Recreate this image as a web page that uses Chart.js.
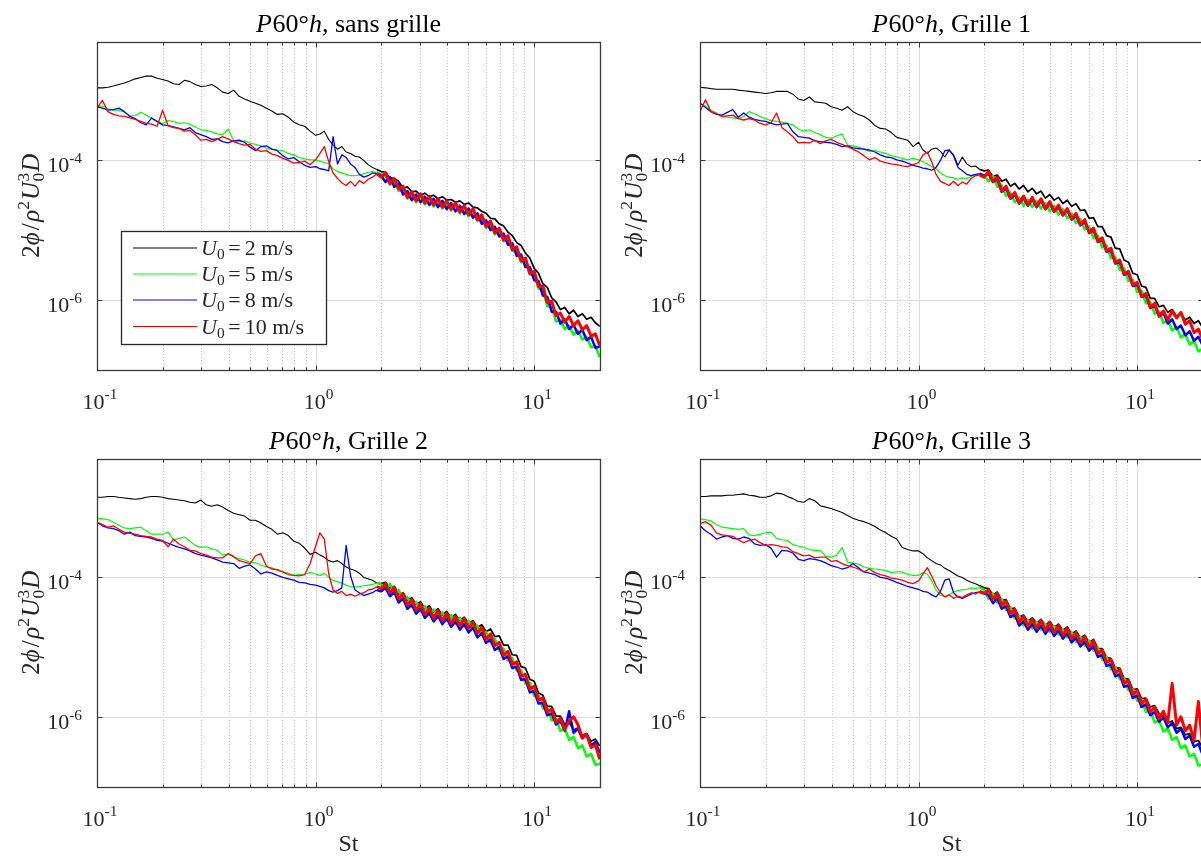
<!DOCTYPE html>
<html><head><meta charset="utf-8">
<script src="https://cdn.jsdelivr.net/npm/chart.js@4.4.1/dist/chart.umd.min.js"></script>
<style>
html,body{margin:0;padding:0;width:1201px;height:858px;overflow:hidden;background:#fff}
canvas{position:absolute}
</style></head><body>
<canvas id="c0" width="610" height="420" style="left:0px;top:0px"></canvas>
<canvas id="c1" width="610" height="420" style="left:603px;top:0px"></canvas>
<canvas id="c2" width="610" height="441" style="left:0px;top:417px"></canvas>
<canvas id="c3" width="610" height="441" style="left:603px;top:417px"></canvas>
<script>
// ---------- data ----------
const st = [0.1,0.1059,0.1122,0.1189,0.1259,0.1334,0.1413,0.1496,0.1585,0.1679,
0.1778,0.1884,0.1995,0.2113,0.2239,0.2371,0.2512,0.2661,0.2818,0.2985,
0.3162,0.335,0.3548,0.3758,0.3981,0.4217,0.4467,0.4732,0.5012,0.5309,
0.5623,0.5957,0.631,0.6683,0.7079,0.7499,0.7943,0.8414,0.8913,0.9441,1.0,
1.047,1.096,1.148,1.202,1.259,1.318,1.380,1.445,1.514,1.585,1.660,1.738,1.820,1.905,1.995,
2.089,2.188,2.291,2.399,2.512,2.630,2.754,2.884,3.020,3.162,
3.311,3.467,3.631,3.802,3.981,4.169,4.365,4.571,4.786,5.012,
5.248,5.495,5.754,6.026,6.310,6.607,6.918,7.244,7.586,7.943,
8.318,8.710,9.120,9.550,10.0,10.47,10.96,11.48,12.02,12.59,
13.18,13.80,14.45,15.14,15.85,16.60,17.38,18.20,19.05,19.95];

const panelNames = ['sans grille','Grille 1','Grille 2','Grille 3'];
const speeds = [2,5,8,10];
const xMajorTicks = [0.1,1,10];
const xTickExponents = ['-1','0','1'];
const xMinorTicks = [0.2,0.3,0.4,0.5,0.6,0.7,0.8,0.9,2,3,4,5,6,7,8,9];
const yMajorTicks = [1e-6,1e-4];
const yTickExponents = ['-6','-4'];
const xAxisLabel = 'St';

// P60°h, sans grille
const sg_U2 = [1.10e-3,1.10e-3,1.12e-3,1.17e-3,1.23e-3,1.29e-3,1.38e-3,1.48e-3,1.55e-3,1.62e-3,
1.62e-3,1.51e-3,1.45e-3,1.38e-3,1.26e-3,1.23e-3,1.41e-3,1.35e-3,1.23e-3,1.15e-3,
1.17e-3,1.23e-3,1.10e-3,9.55e-4,9.12e-4,1.02e-3,8.32e-4,7.59e-4,7.08e-4,6.61e-4,
6.17e-4,5.62e-4,5.13e-4,4.57e-4,4.68e-4,4.17e-4,3.55e-4,3.24e-4,3.09e-4,2.63e-4,2.29e-4,
2.40e-4,2.63e-4,2.00e-4,1.66e-4,1.45e-4,1.58e-4,1.32e-4,1.26e-4,1.15e-4,1.12e-4,1.0e-4,8.71e-5,7.94e-5,7.41e-5,6.92e-5,
6.76e-5,5.62e-5,5.50e-5,5.01e-5,3.98e-5,4.17e-5,3.55e-5,3.63e-5,3.16e-5,3.39e-5,
3.02e-5,3.16e-5,2.82e-5,3.02e-5,2.69e-5,2.75e-5,2.51e-5,2.63e-5,2.34e-5,2.45e-5,
2.14e-5,2.09e-5,1.86e-5,1.74e-5,1.48e-5,1.45e-5,1.23e-5,1.15e-5,9.33e-6,8.32e-6,
6.61e-6,6.03e-6,4.68e-6,3.98e-6,2.82e-6,2.40e-6,1.70e-6,1.51e-6,1.07e-6,9.33e-7,
7.24e-7,7.76e-7,6.31e-7,7.08e-7,5.75e-7,6.31e-7,5.25e-7,5.62e-7,4.68e-7,4.17e-7];
const sg_U5 = [5.89e-4,6.03e-4,5.50e-4,5.25e-4,5.25e-4,4.90e-4,4.37e-4,4.37e-4,4.90e-4,4.47e-4,
3.98e-4,3.63e-4,3.39e-4,3.72e-4,3.63e-4,3.39e-4,3.47e-4,3.31e-4,3.02e-4,2.75e-4,
2.69e-4,2.57e-4,2.40e-4,2.34e-4,2.82e-4,1.91e-4,1.86e-4,1.91e-4,1.78e-4,1.70e-4,
1.62e-4,1.48e-4,1.45e-4,1.41e-4,1.38e-4,1.26e-4,1.20e-4,1.10e-4,1.05e-4,1.02e-4,1.02e-4,
9.77e-5,9.33e-5,8.91e-5,7.59e-5,6.92e-5,6.61e-5,6.31e-5,6.03e-5,6.03e-5,6.17e-5,6.46e-5,6.76e-5,6.92e-5,6.76e-5,6.31e-5,
5.89e-5,4.47e-5,5.01e-5,3.63e-5,3.89e-5,2.82e-5,3.24e-5,2.51e-5,3.02e-5,2.34e-5,
2.75e-5,2.19e-5,2.57e-5,2.04e-5,2.40e-5,1.91e-5,2.24e-5,1.74e-5,2.04e-5,1.58e-5,
1.82e-5,1.35e-5,1.48e-5,1.07e-5,1.20e-5,8.71e-6,9.77e-6,6.92e-6,7.41e-6,5.01e-6,
5.13e-6,3.47e-6,3.55e-6,2.29e-6,2.29e-6,1.45e-6,1.35e-6,8.13e-7,7.76e-7,4.90e-7,
5.13e-7,3.80e-7,4.27e-7,3.16e-7,3.63e-7,2.69e-7,2.95e-7,2.09e-7,2.19e-7,1.51e-7];
const sg_U8 = [5.89e-4,5.62e-4,5.25e-4,5.37e-4,5.62e-4,5.01e-4,4.27e-4,3.98e-4,3.47e-4,3.24e-4,
4.07e-4,3.63e-4,3.24e-4,3.16e-4,3.02e-4,2.88e-4,2.75e-4,2.95e-4,2.51e-4,2.34e-4,
2.19e-4,2.00e-4,2.04e-4,1.86e-4,1.78e-4,1.91e-4,1.95e-4,1.82e-4,1.55e-4,1.38e-4,
1.58e-4,1.62e-4,1.45e-4,1.38e-4,1.17e-4,1.05e-4,1.10e-4,9.55e-5,8.51e-5,7.94e-5,8.13e-5,
7.59e-5,7.41e-5,7.08e-5,2.19e-4,8.91e-5,1.20e-4,1.10e-4,8.91e-5,7.94e-5,6.31e-5,5.75e-5,6.03e-5,6.61e-5,6.46e-5,6.03e-5,
4.90e-5,5.75e-5,4.17e-5,4.68e-5,3.24e-5,3.63e-5,2.69e-5,3.24e-5,2.51e-5,3.02e-5,
2.29e-5,2.82e-5,2.14e-5,2.63e-5,2.00e-5,2.45e-5,1.86e-5,2.24e-5,1.70e-5,2.04e-5,
1.51e-5,1.74e-5,1.23e-5,1.38e-5,1.0e-5,1.12e-5,8.13e-6,8.91e-6,6.17e-6,6.46e-6,
4.27e-6,4.47e-6,2.95e-6,2.95e-6,1.91e-6,1.86e-6,1.15e-6,1.10e-6,6.76e-7,6.76e-7,
4.57e-7,5.25e-7,3.80e-7,4.37e-7,3.24e-7,3.72e-7,2.63e-7,2.95e-7,2.04e-7,2.14e-7];
const sg_U10 = [5.62e-4,7.24e-4,5.01e-4,4.57e-4,4.37e-4,4.27e-4,4.07e-4,3.89e-4,3.63e-4,3.39e-4,
3.31e-4,3.09e-4,5.25e-4,3.16e-4,2.95e-4,2.88e-4,2.63e-4,2.69e-4,2.34e-4,1.95e-4,
2.00e-4,1.86e-4,2.00e-4,2.19e-4,2.04e-4,1.86e-4,1.74e-4,1.66e-4,1.70e-4,1.45e-4,
1.35e-4,1.38e-4,1.23e-4,1.17e-4,1.07e-4,1.0e-4,9.12e-5,9.33e-5,9.77e-5,8.71e-5,1.02e-4,
1.26e-4,1.58e-4,9.55e-5,6.61e-5,5.50e-5,4.79e-5,4.37e-5,5.01e-5,4.27e-5,5.13e-5,4.68e-5,5.37e-5,5.75e-5,6.46e-5,5.75e-5,
6.61e-5,4.68e-5,5.50e-5,3.89e-5,4.27e-5,2.95e-5,3.55e-5,2.63e-5,3.31e-5,2.45e-5,
3.02e-5,2.29e-5,2.82e-5,2.14e-5,2.63e-5,2.00e-5,2.45e-5,1.82e-5,2.24e-5,1.66e-5,
2.04e-5,1.41e-5,1.66e-5,1.12e-5,1.35e-5,9.12e-6,1.07e-5,7.24e-6,8.32e-6,5.25e-6,
5.75e-6,3.63e-6,3.98e-6,2.40e-6,2.57e-6,1.55e-6,1.58e-6,9.12e-7,9.55e-7,5.89e-7,
6.46e-7,4.79e-7,5.75e-7,4.27e-7,5.01e-7,3.72e-7,4.27e-7,3.02e-7,3.24e-7,2.19e-7];

// P60°h, Grille 1
const g1_U2 = [1.12e-3,1.10e-3,1.07e-3,1.05e-3,1.05e-3,1.05e-3,1.05e-3,1.02e-3,1.0e-3,9.77e-4,
9.55e-4,9.33e-4,9.12e-4,9.33e-4,9.77e-4,9.77e-4,9.77e-4,8.91e-4,7.59e-4,7.24e-4,
8.13e-4,6.92e-4,6.76e-4,6.61e-4,5.89e-4,5.62e-4,5.25e-4,5.89e-4,5.01e-4,4.57e-4,
4.27e-4,3.80e-4,3.16e-4,2.88e-4,2.82e-4,2.51e-4,2.14e-4,2.04e-4,1.95e-4,1.58e-4,1.82e-4,
1.41e-4,1.26e-4,1.45e-4,1.51e-4,1.35e-4,1.12e-4,1.41e-4,1.20e-4,8.51e-5,1.12e-4,8.91e-5,8.13e-5,8.32e-5,7.41e-5,7.08e-5,
7.24e-5,5.89e-5,6.17e-5,5.01e-5,5.37e-5,4.27e-5,4.68e-5,3.89e-5,4.37e-5,3.55e-5,
3.98e-5,3.31e-5,3.63e-5,2.88e-5,3.24e-5,2.69e-5,2.95e-5,2.40e-5,2.69e-5,2.19e-5,
2.40e-5,1.91e-5,1.95e-5,1.48e-5,1.51e-5,1.12e-5,1.12e-5,8.32e-6,7.94e-6,5.50e-6,
5.37e-6,3.72e-6,3.47e-6,2.40e-6,2.29e-6,1.58e-6,1.51e-6,1.05e-6,1.05e-6,7.94e-7,
8.32e-7,6.61e-7,7.24e-7,5.75e-7,6.31e-7,5.13e-7,5.62e-7,4.57e-7,5.01e-7,3.98e-7];
const g1_U5 = [6.61e-4,6.03e-4,5.25e-4,4.79e-4,4.27e-4,4.17e-4,4.07e-4,3.98e-4,4.27e-4,5.01e-4,
4.68e-4,4.27e-4,3.98e-4,3.72e-4,3.63e-4,3.55e-4,3.39e-4,3.24e-4,2.82e-4,2.63e-4,
2.75e-4,2.51e-4,2.34e-4,2.14e-4,2.09e-4,2.24e-4,2.40e-4,1.66e-4,1.62e-4,1.55e-4,
1.45e-4,1.35e-4,1.38e-4,1.32e-4,1.26e-4,1.17e-4,1.12e-4,1.07e-4,1.02e-4,1.07e-4,1.02e-4,
9.55e-5,8.91e-5,8.13e-5,7.59e-5,6.61e-5,6.03e-5,5.75e-5,5.62e-5,5.37e-5,5.62e-5,5.50e-5,5.89e-5,6.17e-5,6.31e-5,6.03e-5,
5.01e-5,6.03e-5,4.17e-5,4.37e-5,3.09e-5,3.47e-5,2.51e-5,2.95e-5,2.24e-5,2.75e-5,
2.14e-5,2.63e-5,2.04e-5,2.45e-5,1.86e-5,2.24e-5,1.66e-5,2.00e-5,1.48e-5,1.74e-5,
1.26e-5,1.45e-5,1.02e-5,1.12e-5,7.76e-6,8.32e-6,5.62e-6,6.03e-6,3.98e-6,4.07e-6,
2.69e-6,2.82e-6,1.86e-6,1.95e-6,1.29e-6,1.35e-6,8.91e-7,9.33e-7,6.31e-7,6.76e-7,
4.68e-7,5.13e-7,3.63e-7,4.07e-7,2.88e-7,3.24e-7,2.29e-7,2.57e-7,1.82e-7,2.00e-7];
const g1_U8 = [6.61e-4,5.75e-4,5.01e-4,4.57e-4,4.47e-4,4.90e-4,5.37e-4,4.17e-4,4.79e-4,4.17e-4,
3.89e-4,3.72e-4,3.63e-4,3.39e-4,3.24e-4,3.31e-4,3.39e-4,2.57e-4,2.19e-4,2.14e-4,
2.09e-4,1.91e-4,1.86e-4,1.82e-4,1.78e-4,1.70e-4,1.58e-4,1.62e-4,1.51e-4,1.48e-4,
1.45e-4,1.41e-4,1.32e-4,1.20e-4,1.12e-4,1.10e-4,1.02e-4,9.77e-5,9.12e-5,8.51e-5,8.13e-5,
7.76e-5,7.59e-5,7.24e-5,7.94e-5,1.0e-4,1.38e-4,1.41e-4,1.17e-4,7.94e-5,7.08e-5,6.31e-5,6.03e-5,6.31e-5,6.46e-5,6.03e-5,
6.46e-5,4.90e-5,5.37e-5,3.55e-5,3.98e-5,2.82e-5,3.24e-5,2.40e-5,2.88e-5,2.24e-5,
2.75e-5,2.14e-5,2.63e-5,2.00e-5,2.40e-5,1.82e-5,2.14e-5,1.62e-5,1.91e-5,1.41e-5,
1.62e-5,1.17e-5,1.32e-5,9.12e-6,1.0e-5,6.76e-6,7.24e-6,4.90e-6,5.13e-6,3.31e-6,
3.47e-6,2.29e-6,2.40e-6,1.58e-6,1.66e-6,1.10e-6,1.15e-6,7.59e-7,8.32e-7,5.75e-7,
6.46e-7,4.57e-7,5.25e-7,3.80e-7,4.27e-7,3.09e-7,3.55e-7,2.57e-7,2.95e-7,2.19e-7];
const g1_U10 = [5.01e-4,7.41e-4,5.01e-4,4.68e-4,4.27e-4,4.37e-4,4.47e-4,3.98e-4,3.80e-4,3.98e-4,
3.80e-4,3.39e-4,3.24e-4,3.47e-4,4.79e-4,2.95e-4,2.57e-4,2.19e-4,1.78e-4,1.82e-4,
1.78e-4,1.95e-4,1.74e-4,1.91e-4,2.00e-4,1.82e-4,1.70e-4,1.58e-4,1.45e-4,1.32e-4,
1.17e-4,1.02e-4,1.10e-4,9.77e-5,9.33e-5,8.91e-5,8.71e-5,8.32e-5,8.13e-5,8.71e-5,9.33e-5,
1.20e-4,1.32e-4,9.55e-5,6.31e-5,5.01e-5,4.68e-5,4.37e-5,5.01e-5,4.37e-5,4.90e-5,4.57e-5,5.50e-5,6.03e-5,6.17e-5,5.75e-5,
6.92e-5,5.01e-5,5.75e-5,3.63e-5,4.27e-5,2.88e-5,3.47e-5,2.45e-5,3.09e-5,2.29e-5,
2.95e-5,2.19e-5,2.82e-5,2.04e-5,2.57e-5,1.86e-5,2.29e-5,1.66e-5,2.04e-5,1.45e-5,
1.74e-5,1.20e-5,1.41e-5,9.33e-6,1.07e-5,6.92e-6,7.76e-6,5.01e-6,5.50e-6,3.39e-6,
3.72e-6,2.34e-6,2.57e-6,1.62e-6,1.78e-6,1.12e-6,1.23e-6,7.76e-7,8.91e-7,5.89e-7,
6.92e-7,5.13e-7,6.92e-7,5.50e-7,6.61e-7,4.47e-7,5.01e-7,3.39e-7,3.80e-7,2.69e-7];

// P60°h, Grille 2
const g2_U2 = [1.41e-3,1.41e-3,1.45e-3,1.45e-3,1.41e-3,1.38e-3,1.35e-3,1.32e-3,1.35e-3,1.41e-3,
1.45e-3,1.45e-3,1.41e-3,1.35e-3,1.32e-3,1.29e-3,1.26e-3,1.20e-3,1.17e-3,1.29e-3,
1.10e-3,1.05e-3,1.10e-3,1.02e-3,9.12e-4,8.32e-4,7.94e-4,7.59e-4,6.61e-4,6.61e-4,
6.03e-4,5.37e-4,4.90e-4,4.17e-4,4.37e-4,3.98e-4,3.31e-4,3.09e-4,2.63e-4,2.14e-4,2.29e-4,
2.09e-4,1.95e-4,1.74e-4,1.66e-4,1.74e-4,1.58e-4,1.41e-4,1.32e-4,1.26e-4,1.15e-4,1.0e-4,9.55e-5,9.12e-5,8.32e-5,8.13e-5,
8.51e-5,7.08e-5,7.41e-5,5.62e-5,6.03e-5,4.68e-5,5.13e-5,4.07e-5,4.47e-5,3.55e-5,
3.89e-5,3.16e-5,3.55e-5,2.88e-5,3.24e-5,2.63e-5,2.95e-5,2.40e-5,2.69e-5,2.19e-5,
2.40e-5,1.91e-5,2.09e-5,1.66e-5,1.82e-5,1.41e-5,1.45e-5,1.07e-5,1.07e-5,7.76e-6,
7.59e-6,5.25e-6,5.01e-6,3.47e-6,3.24e-6,2.19e-6,2.04e-6,1.41e-6,1.41e-6,1.02e-6,
1.02e-6,7.76e-7,8.32e-7,6.46e-7,6.92e-7,5.37e-7,5.75e-7,4.47e-7,4.79e-7,3.80e-7];
const g2_U5 = [7.08e-4,6.92e-4,6.76e-4,6.17e-4,5.62e-4,5.13e-4,5.01e-4,5.13e-4,5.25e-4,4.68e-4,
4.17e-4,4.17e-4,4.17e-4,4.47e-4,3.47e-4,3.63e-4,3.80e-4,3.31e-4,2.88e-4,2.69e-4,
2.75e-4,2.57e-4,2.45e-4,2.09e-4,2.19e-4,1.95e-4,1.86e-4,1.78e-4,1.66e-4,1.62e-4,
1.51e-4,1.41e-4,1.38e-4,1.26e-4,1.20e-4,1.15e-4,1.07e-4,1.10e-4,1.12e-4,1.17e-4,1.12e-4,
1.07e-4,1.15e-4,1.0e-4,9.12e-5,8.71e-5,8.32e-5,7.76e-5,7.41e-5,7.24e-5,7.41e-5,7.59e-5,7.76e-5,7.94e-5,8.32e-5,7.94e-5,
6.76e-5,8.13e-5,5.89e-5,6.61e-5,4.68e-5,5.25e-5,3.80e-5,4.47e-5,3.31e-5,3.89e-5,
2.88e-5,3.47e-5,2.63e-5,3.16e-5,2.40e-5,2.88e-5,2.19e-5,2.63e-5,2.00e-5,2.40e-5,
1.78e-5,2.04e-5,1.48e-5,1.66e-5,1.17e-5,1.32e-5,8.91e-6,9.55e-6,6.46e-6,6.92e-6,
4.57e-6,4.68e-6,3.02e-6,3.09e-6,2.00e-6,2.04e-6,1.32e-6,1.35e-6,8.91e-7,9.33e-7,
6.31e-7,6.76e-7,4.68e-7,5.13e-7,3.55e-7,3.89e-7,2.69e-7,2.95e-7,2.04e-7,2.14e-7];
const g2_U8 = [6.17e-4,5.50e-4,5.13e-4,5.01e-4,4.68e-4,4.17e-4,4.47e-4,3.98e-4,3.89e-4,3.80e-4,
3.63e-4,3.39e-4,3.31e-4,3.09e-4,2.88e-4,2.69e-4,2.57e-4,2.40e-4,2.19e-4,2.09e-4,
2.00e-4,1.91e-4,1.78e-4,1.66e-4,1.62e-4,1.58e-4,1.35e-4,1.45e-4,1.51e-4,1.32e-4,
1.12e-4,1.20e-4,1.15e-4,1.07e-4,1.0e-4,9.55e-5,9.12e-5,8.51e-5,8.32e-5,7.94e-5,7.76e-5,
7.41e-5,7.08e-5,6.46e-5,6.17e-5,6.46e-5,7.08e-5,2.88e-4,1.05e-4,6.61e-5,6.03e-5,5.50e-5,5.75e-5,6.03e-5,6.61e-5,6.31e-5,
7.08e-5,5.37e-5,6.17e-5,4.37e-5,5.01e-5,3.55e-5,4.07e-5,3.02e-5,3.55e-5,2.63e-5,
3.09e-5,2.34e-5,2.82e-5,2.14e-5,2.57e-5,1.95e-5,2.34e-5,1.78e-5,2.14e-5,1.62e-5,
1.91e-5,1.38e-5,1.58e-5,1.15e-5,1.29e-5,9.12e-6,1.0e-5,6.76e-6,7.41e-6,5.01e-6,
5.25e-6,3.39e-6,3.47e-6,2.24e-6,2.34e-6,1.55e-6,1.58e-6,1.05e-6,1.12e-6,7.76e-7,
8.71e-7,6.31e-7,1.20e-6,5.89e-7,6.76e-7,4.90e-7,5.50e-7,3.89e-7,4.37e-7,3.02e-7];
const g2_U10 = [6.17e-4,5.75e-4,5.25e-4,5.50e-4,4.90e-4,4.47e-4,4.27e-4,4.17e-4,3.98e-4,3.89e-4,
3.80e-4,3.55e-4,3.39e-4,2.75e-4,3.55e-4,3.02e-4,2.75e-4,2.45e-4,2.40e-4,2.19e-4,
2.09e-4,1.95e-4,1.91e-4,1.91e-4,2.19e-4,2.00e-4,1.74e-4,1.66e-4,1.58e-4,2.04e-4,
2.19e-4,1.45e-4,1.32e-4,1.29e-4,1.20e-4,1.10e-4,1.07e-4,1.05e-4,1.10e-4,1.58e-4,2.82e-4,
4.37e-4,3.55e-4,1.12e-4,6.61e-5,5.89e-5,6.31e-5,5.50e-5,5.75e-5,5.37e-5,5.75e-5,6.03e-5,6.61e-5,6.76e-5,7.41e-5,6.92e-5,
8.13e-5,6.03e-5,7.24e-5,4.90e-5,5.89e-5,3.98e-5,4.79e-5,3.39e-5,4.17e-5,2.95e-5,
3.63e-5,2.63e-5,3.31e-5,2.40e-5,3.02e-5,2.19e-5,2.75e-5,2.04e-5,2.57e-5,1.86e-5,
2.29e-5,1.58e-5,1.91e-5,1.29e-5,1.55e-5,1.05e-5,1.17e-5,7.59e-6,8.71e-6,5.62e-6,
6.17e-6,3.80e-6,4.07e-6,2.51e-6,2.75e-6,1.74e-6,1.86e-6,1.17e-6,1.29e-6,8.32e-7,
9.55e-7,6.61e-7,8.71e-7,1.0e-6,7.76e-7,5.01e-7,5.62e-7,3.63e-7,3.98e-7,2.45e-7];

// P60°h, Grille 3
const g3_U2 = [1.45e-3,1.45e-3,1.48e-3,1.48e-3,1.48e-3,1.51e-3,1.51e-3,1.55e-3,1.58e-3,1.51e-3,
1.48e-3,1.41e-3,1.41e-3,1.48e-3,1.62e-3,1.58e-3,1.45e-3,1.35e-3,1.23e-3,1.20e-3,
1.35e-3,1.26e-3,1.07e-3,1.02e-3,9.77e-4,9.12e-4,8.51e-4,7.76e-4,7.08e-4,6.61e-4,
6.31e-4,5.89e-4,5.37e-4,4.79e-4,4.37e-4,3.89e-4,3.55e-4,2.69e-4,2.51e-4,2.40e-4,2.40e-4,
2.19e-4,1.91e-4,1.74e-4,1.58e-4,1.51e-4,1.35e-4,1.26e-4,1.15e-4,1.05e-4,1.0e-4,9.12e-5,8.51e-5,8.13e-5,7.59e-5,7.08e-5,
6.92e-5,5.62e-5,6.17e-5,4.68e-5,4.79e-5,3.55e-5,3.63e-5,2.69e-5,2.88e-5,2.34e-5,
2.63e-5,2.19e-5,2.51e-5,2.04e-5,2.34e-5,1.91e-5,2.14e-5,1.74e-5,1.95e-5,1.55e-5,
1.70e-5,1.35e-5,1.48e-5,1.17e-5,1.29e-5,9.55e-6,9.55e-6,7.08e-6,6.92e-6,5.01e-6,
5.01e-6,3.55e-6,3.47e-6,2.45e-6,2.51e-6,1.82e-6,1.86e-6,1.38e-6,1.45e-6,1.12e-6,
1.02e-6,8.13e-7,8.71e-7,6.76e-7,7.08e-7,5.50e-7,5.75e-7,4.37e-7,4.57e-7,3.55e-7];
const g3_U5 = [6.92e-4,6.76e-4,6.46e-4,5.75e-4,5.25e-4,5.13e-4,5.01e-4,4.90e-4,5.01e-4,4.07e-4,
3.98e-4,4.17e-4,4.37e-4,4.47e-4,3.63e-4,3.47e-4,3.39e-4,2.95e-4,2.82e-4,2.69e-4,
2.51e-4,2.45e-4,2.45e-4,2.00e-4,1.95e-4,2.09e-4,2.69e-4,1.66e-4,1.62e-4,1.55e-4,
1.41e-4,1.35e-4,1.32e-4,1.29e-4,1.26e-4,1.17e-4,1.20e-4,1.20e-4,1.10e-4,1.07e-4,1.07e-4,
1.17e-4,1.12e-4,8.91e-5,6.61e-5,5.50e-5,5.37e-5,5.62e-5,6.17e-5,6.46e-5,6.61e-5,6.76e-5,7.08e-5,6.92e-5,7.24e-5,6.61e-5,
4.90e-5,5.89e-5,4.37e-5,4.90e-5,3.39e-5,3.72e-5,2.57e-5,2.82e-5,2.04e-5,2.45e-5,
1.86e-5,2.29e-5,1.78e-5,2.14e-5,1.66e-5,2.00e-5,1.51e-5,1.82e-5,1.38e-5,1.62e-5,
1.20e-5,1.41e-5,1.05e-5,1.23e-5,8.91e-6,9.77e-6,6.61e-6,7.24e-6,4.79e-6,5.13e-6,
3.47e-6,3.63e-6,2.40e-6,2.51e-6,1.70e-6,1.78e-6,1.17e-6,1.23e-6,8.32e-7,8.91e-7,
6.17e-7,6.76e-7,4.68e-7,5.13e-7,3.55e-7,3.89e-7,2.69e-7,2.95e-7,2.00e-7,2.09e-7];
const g3_U8 = [5.50e-4,4.68e-4,4.17e-4,3.55e-4,3.80e-4,3.98e-4,3.63e-4,3.55e-4,3.80e-4,3.63e-4,
3.02e-4,2.88e-4,2.95e-4,2.63e-4,1.95e-4,2.45e-4,2.40e-4,2.24e-4,1.82e-4,1.74e-4,
1.86e-4,1.82e-4,1.74e-4,1.62e-4,1.48e-4,1.41e-4,1.32e-4,1.38e-4,1.58e-4,1.38e-4,
1.20e-4,1.15e-4,1.10e-4,1.0e-4,9.77e-5,9.12e-5,8.51e-5,7.94e-5,7.41e-5,7.08e-5,6.76e-5,
6.31e-5,6.17e-5,5.62e-5,5.25e-5,6.31e-5,9.12e-5,9.55e-5,6.03e-5,5.25e-5,5.01e-5,5.37e-5,5.75e-5,6.03e-5,6.17e-5,5.89e-5,
5.62e-5,4.27e-5,5.01e-5,3.55e-5,3.89e-5,2.69e-5,2.95e-5,2.04e-5,2.34e-5,1.78e-5,
2.14e-5,1.66e-5,2.04e-5,1.55e-5,1.91e-5,1.45e-5,1.74e-5,1.32e-5,1.58e-5,1.17e-5,
1.38e-5,1.02e-5,1.20e-5,8.91e-6,1.05e-5,7.24e-6,7.76e-6,5.37e-6,5.62e-6,3.80e-6,
4.07e-6,2.69e-6,2.82e-6,1.86e-6,2.04e-6,1.38e-6,1.51e-6,1.05e-6,1.17e-6,8.51e-7,
9.77e-7,7.08e-7,8.13e-7,5.89e-7,6.76e-7,4.79e-7,5.37e-7,3.72e-7,4.07e-7,2.82e-7];
const g3_U10 = [5.89e-4,6.31e-4,5.62e-4,4.37e-4,4.07e-4,3.98e-4,3.89e-4,3.47e-4,3.16e-4,3.39e-4,
3.55e-4,3.16e-4,2.88e-4,2.95e-4,2.88e-4,2.75e-4,2.69e-4,2.34e-4,2.19e-4,2.04e-4,
2.09e-4,1.91e-4,1.95e-4,1.95e-4,1.70e-4,1.74e-4,1.58e-4,1.48e-4,1.41e-4,1.32e-4,
1.20e-4,1.32e-4,1.17e-4,1.10e-4,1.05e-4,9.77e-5,9.55e-5,9.12e-5,8.51e-5,8.13e-5,8.91e-5,
1.12e-4,1.38e-4,1.05e-4,7.59e-5,6.03e-5,5.25e-5,5.62e-5,5.01e-5,5.37e-5,5.13e-5,5.62e-5,6.03e-5,5.75e-5,6.31e-5,5.89e-5,
6.61e-5,4.79e-5,5.89e-5,3.98e-5,4.57e-5,3.02e-5,3.47e-5,2.29e-5,2.75e-5,2.00e-5,
2.51e-5,1.86e-5,2.40e-5,1.74e-5,2.24e-5,1.62e-5,2.04e-5,1.48e-5,1.86e-5,1.32e-5,
1.62e-5,1.15e-5,1.41e-5,1.0e-5,1.23e-5,8.13e-6,9.12e-6,6.03e-6,6.61e-6,4.27e-6,
4.79e-6,3.02e-6,3.31e-6,2.09e-6,2.40e-6,1.55e-6,1.78e-6,1.17e-6,1.38e-6,9.33e-7,
1.20e-6,8.32e-7,3.02e-6,7.59e-7,1.0e-6,6.31e-7,7.59e-7,4.57e-7,1.66e-6,3.55e-7];

// ---------- styles ----------
const seriesColors = ['#000000','#00ff00','#0000ff','#ff0000'];
const lowWidths  = [1.1, 1.2, 1.3, 1.3];   // line widths for St < 1.9
const highWidths = [1.7, 2.5, 2.5, 3.0];   // noisy high-frequency part
const FONT = '"Liberation Serif","DejaVu Serif","Times New Roman",serif';
const TEXT = '#262626';

function fontOf(s, size){
  const sz = (s.sup||s.sub) ? size*0.7 : size;
  return (s.it?'italic ':'') + sz.toFixed(1) + 'px ' + FONT;
}
function richWidth(ctx, segs, size){
  let w = 0;
  for (const s of segs){ ctx.font = fontOf(s,size); if(!s.stay) w += ctx.measureText(s.t).width + (s.gap||0)*size; }
  return w;
}
function drawRich(ctx, segs, x, y, size, align){
  const w = richWidth(ctx, segs, size);
  let cx = align==='center' ? x - w/2 : (align==='right' ? x - w : x);
  ctx.textAlign = 'left'; ctx.textBaseline = 'alphabetic';
  for (const s of segs){
    ctx.font = fontOf(s,size);
    const dy = s.sup ? -0.42*size : (s.sub ? 0.2*size : 0);
    ctx.fillText(s.t, cx + (s.pre||0)*size, y + dy);
    if(!s.stay) cx += ctx.measureText(s.t).width + (s.gap||0)*size;
  }
}

function decoPlugin(p){
  return {
    id: 'deco',
    beforeDatasetsDraw(chart){
      const {ctx, chartArea:a, scales:{x, y}} = chart;
      ctx.save();
      ctx.lineWidth = 1;
      ctx.strokeStyle = '#c4c4c4';
      ctx.setLineDash([1,2]);
      for (const v of xMinorTicks){
        const px = Math.round(x.getPixelForValue(v)) + 0.5;
        ctx.beginPath(); ctx.moveTo(px, a.top); ctx.lineTo(px, a.bottom); ctx.stroke();
      }
      ctx.setLineDash([]);
      ctx.strokeStyle = '#dcdcdc';
      for (const v of xMajorTicks){
        const px = Math.round(x.getPixelForValue(v)) + 0.5;
        if (px < a.left + 2) continue;
        ctx.beginPath(); ctx.moveTo(px, a.top); ctx.lineTo(px, a.bottom); ctx.stroke();
      }
      for (const v of yMajorTicks){
        const py = Math.round(y.getPixelForValue(v)) + 0.5;
        ctx.beginPath(); ctx.moveTo(a.left, py); ctx.lineTo(a.right, py); ctx.stroke();
      }
      ctx.restore();
    },
    afterDraw(chart){
      const {ctx, chartArea:a, scales:{x, y}} = chart;
      ctx.save();
      // frame
      const L = Math.round(a.left)+0.5, T = Math.round(a.top)+0.5, R = Math.round(a.right)+0.5, B = Math.round(a.bottom)+0.5;
      ctx.strokeStyle = '#3a3a3a'; ctx.lineWidth = 1.3;
      ctx.strokeRect(L, T, R-L, B-T);
      // inward ticks
      ctx.lineWidth = 1;
      ctx.beginPath();
      for (const v of xMajorTicks.concat(xMinorTicks)){
        const px = Math.round(x.getPixelForValue(v)) + 0.5;
        const len = xMajorTicks.includes(v) ? 5 : 3;
        ctx.moveTo(px, B); ctx.lineTo(px, B-len);
        ctx.moveTo(px, T); ctx.lineTo(px, T+len);
      }
      for (const v of yMajorTicks){
        const py = Math.round(y.getPixelForValue(v)) + 0.5;
        ctx.moveTo(L, py); ctx.lineTo(L+5, py);
        ctx.moveTo(R, py); ctx.lineTo(R-5, py);
      }
      ctx.stroke();
      // tick labels
      ctx.fillStyle = TEXT;
      xMajorTicks.forEach((v,i)=>{
        drawRich(ctx, [{t:'10'},{t:xTickExponents[i], sup:true}], x.getPixelForValue(v)+3, a.bottom+39, 22, 'center');
      });
      yMajorTicks.forEach((v,i)=>{
        drawRich(ctx, [{t:'10'},{t:yTickExponents[i], sup:true}], a.left-15, y.getPixelForValue(v)+12, 22, 'right');
      });
      // title
      ctx.fillStyle = '#000';
      drawRich(ctx, [{t:'P',it:true,gap:0.03},{t:'60°'},{t:'h',it:true},{t:', '+p.name}], (a.left+a.right)/2, a.top-10, 26, 'center');
      // y label (rotated)
      ctx.fillStyle = TEXT;
      ctx.save();
      ctx.translate(31, (a.top+a.bottom)/2);
      ctx.rotate(-Math.PI/2);
      drawRich(ctx, [{t:'2'},{t:'ϕ',it:true,gap:0.08},{t:'/',gap:0.06},{t:'ρ',it:true},{t:'2',sup:true,gap:0.04},{t:'U',it:true,gap:0.02},{t:'0',sub:true,stay:true},{t:'3',sup:true,gap:0.04},{t:'D',it:true}], 0, 8, 25, 'center');
      ctx.restore();
      // x label
      if (p.xlabel){
        drawRich(ctx, [{t:xAxisLabel}], (a.left+a.right)/2, a.bottom+64, 24, 'center');
      }
      // legend
      if (p.legend){
        const bx = 121.5, by = 231.5, bw = 205, bh = 113;
        ctx.fillStyle = '#fff';
        ctx.fillRect(bx, by, bw, bh);
        ctx.strokeStyle = '#262626'; ctx.lineWidth = 1.3;
        ctx.strokeRect(bx, by, bw, bh);
        const rows = [248, 274, 300, 326.5];
        speeds.forEach((s,i)=>{
          ctx.strokeStyle = seriesColors[i]; ctx.lineWidth = 1;
          ctx.beginPath(); ctx.moveTo(133, rows[i]); ctx.lineTo(197, rows[i]); ctx.stroke();
          ctx.fillStyle = TEXT;
          drawRich(ctx, [{t:'U',it:true},{t:'0',sub:true,gap:0.05},{t:'=',gap:0.3,pre:0.12},{t:s+' m/s'}], 201, rows[i]+7, 22, 'left');
        });
      }
      ctx.restore();
    }
  };
}

const panels = [
  {name:panelNames[0], series:[sg_U2,sg_U5,sg_U8,sg_U10], id:'c0', h:420, legend:true,  xlabel:false},
  {name:panelNames[1], series:[g1_U2,g1_U5,g1_U8,g1_U10], id:'c1', h:420, legend:false, xlabel:false},
  {name:panelNames[2], series:[g2_U2,g2_U5,g2_U8,g2_U10], id:'c2', h:441, legend:false, xlabel:true},
  {name:panelNames[3], series:[g3_U2,g3_U5,g3_U8,g3_U10], id:'c3', h:441, legend:false, xlabel:true}
];

panels.forEach(p=>{
  const datasets = p.series.map((arr,i)=>({
    label: 'U0 = ' + speeds[i] + ' m/s',
    data: st.slice(0, arr.length).map((v,j)=>({x:v, y:arr[j]})),
    borderColor: seriesColors[i],
    backgroundColor: seriesColors[i],
    borderWidth: lowWidths[i],
    segment: { borderWidth: c => (c.p0.parsed.x >= 1.9 ? highWidths[i] : lowWidths[i]) },
    borderJoinStyle: 'round',
    pointRadius: 0,
    fill: false,
    tension: 0,
    order: 3 - i
  }));
  new Chart(document.getElementById(p.id), {
    type: 'line',
    data: { datasets },
    options: {
      responsive: false,
      animation: false,
      devicePixelRatio: 1,
      events: [],
      layout: { padding: { top: 42, right: 10, bottom: p.h - 369.5, left: 0 } },
      plugins: { legend: {display:false}, tooltip: {enabled:false}, title: {display:false} },
      scales: {
        x: { type:'logarithmic', min:0.1, max:20, grid:{display:false}, border:{display:false}, ticks:{display:false},
             afterFit(s){ s.height = 0; } },
        y: { type:'logarithmic', min:1e-7, max:5e-3, grid:{display:false}, border:{display:false}, ticks:{display:false},
             afterFit(s){ s.width = 97; } }
      }
    },
    plugins: [decoPlugin(p)]
  });
});
</script>
</body></html>
